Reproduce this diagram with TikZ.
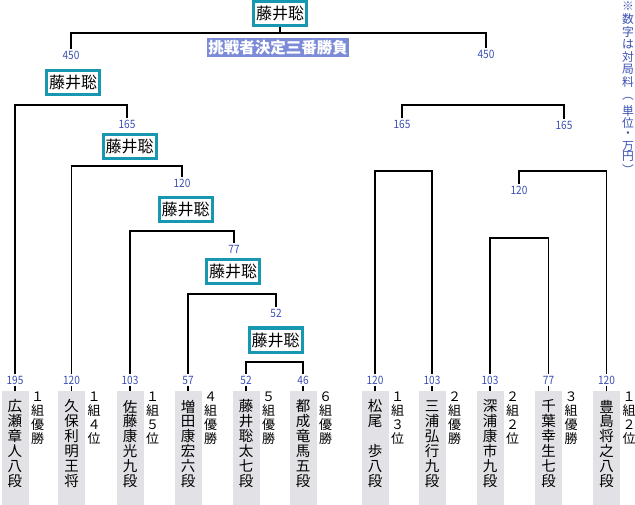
\documentclass[tikz,border=0pt]{standalone}
\usepackage{fontspec}
\newfontfamily\jp{Noto Sans CJK JP}
\newfontfamily\jpnum[FakeStretch=0.88]{Noto Sans CJK JP}
\definecolor{tealbox}{RGB}{24,152,176}
\definecolor{numblue}{RGB}{60,80,180}
\definecolor{bannerblue}{RGB}{123,139,216}
\definecolor{leafgray}{RGB}{226,225,229}
\begin{document}
\begin{tikzpicture}[x=1pt,y=-1pt,
  win/.style={draw=tealbox, line width=3pt, fill=white, inner sep=0pt,
    minimum width=53pt, minimum height=24pt, font=\jp\fontsize{16}{16}\selectfont},
  num/.style={text=numblue, inner sep=1.5pt, font=\jpnum\fontsize{11.5}{11.5}\selectfont},
  leafbox/.style={fill=leafgray, minimum width=27pt, minimum height=118pt, anchor=north, inner sep=0pt},
  lchar/.style={inner sep=0pt, font=\jp\fontsize{14.5}{14.5}\selectfont},
  schar/.style={inner sep=0pt, font=\jp\fontsize{13}{13}\selectfont},
  nchar/.style={inner sep=0pt, text=numblue, font=\jp\fontsize{11.8}{11.8}\selectfont},
  link/.style={line width=1.5pt, black},
]
\useasboundingbox[fill=white] (0,0) rectangle (635,505);

% bar levels
\coordinate (y0) at (0,33);
\coordinate (yA) at (0,105);
\coordinate (yB) at (0,166);
\coordinate (yC) at (0,231);
\coordinate (yD) at (0,294);
\coordinate (yE) at (0,362);
\coordinate (yF) at (0,171);
\coordinate (yG) at (0,238);

% leaves
\foreach \i/\x/\n/\nm/\sd in {
  1/15/195/{広,瀬,章,人,八,段}/{１,組,優,勝},
  2/71.5/120/{久,保,利,明,王,将}/{１,組,４,位},
  3/130/103/{佐,藤,康,光,九,段}/{１,組,５,位},
  4/188/57/{増,田,康,宏,六,段}/{４,組,優,勝},
  5/246/52/{藤,井,聡,太,七,段}/{５,組,優,勝},
  6/303/46/{都,成,竜,馬,五,段}/{６,組,優,勝},
  7/375/120/{松,尾,　,歩,八,段}/{１,組,３,位},
  8/432/103/{三,浦,弘,行,九,段}/{２,組,優,勝},
  9/490/103/{深,浦,康,市,九,段}/{２,組,２,位},
  10/548.5/77/{千,葉,幸,生,七,段}/{３,組,優,勝},
  11/606.5/120/{豊,島,将,之,八,段}/{１,組,２,位}}{
  \node[leafbox] (leaf\i) at (\x,391) {};
  \node[num] (num\i) at (\x,380) {\n};
  \foreach \ch [count=\k from 0] in \nm {
    \node[lchar] (name\i-\k) at (\x,406.5+\k*14.9) {\ch};
  }
  \foreach \ch [count=\k from 0] in \sd {
    \node[schar] (side\i-\k) at (\x+22.5,396.5+\k*14) {\ch};
  }
  \draw[link] (num\i.south) -- (leaf\i.north);
}

% prize labels
\node[num] (p450l) at (71,55) {450};
\node[num] (p450r) at (486,54) {450};
\node[num] (p165l) at (127,124) {165};
\node[num] (p120l) at (182,183) {120};
\node[num] (p77) at (234,249) {77};
\node[num] (p52) at (276,313) {52};
\node[num] (p165a) at (402,124) {165};
\node[num] (p165b) at (564,125) {165};
\node[num] (p120r) at (519,190) {120};

% winner boxes
\node[win] (W0) at (280,13.5) {藤井聡};
\node[win] (W1) at (73,82.5) {藤井聡};
\node[win] (W2) at (129.5,147) {藤井聡};
\node[win] (W3) at (185.5,210) {藤井聡};
\node[win] (W4) at (233,272) {藤井聡};
\node[win] (W5) at (275.5,340) {藤井聡};

% banner
\node[fill=bannerblue, text=white, minimum width=142pt, minimum height=19pt, inner sep=0pt,
  font=\jp\bfseries\fontsize{15.5}{15.5}\selectfont] (banner) at (278,47.5) {挑戦者決定三番勝負};

% note
\foreach \ch/\yy [count=\k from 0] in {※/6,数/19,字/32,は/44.5,対/57,局/69.5,料/82,︵/99,単/111,位/123,・/135,万/146,円/156.5,︶/169.5} {
  \node[nchar] (note-\k) at (628,\yy) {\ch};
}

% brackets
\draw[link] (W0.south) -- (W0.south |- y0);
\draw[link] (p450l.north) |- (y0 -| p450r) -- (p450r.north);
\draw[link] (num1.north) |- (yA -| p165l) -- (p165l.north);
\draw[link] (num2.north) |- (yB -| p120l) -- (p120l.north);
\draw[link] (num3.north) |- (yC -| p77) -- (p77.north);
\draw[link] (num4.north) |- (yD -| p52) -- (p52.north);
\draw[link] (num5.north) |- (yE -| num6) -- (num6.north);
\draw[link] (p165a.north) |- (yA -| p165b) -- (p165b.north);
\draw[link] (num7.north) |- (yF -| num8) -- (num8.north);
\draw[link] (p120r.north) |- (yF -| num11) -- (num11.north);
\draw[link] (num9.north) |- (yG -| num10) -- (num10.north);
\end{tikzpicture}
\end{document}
